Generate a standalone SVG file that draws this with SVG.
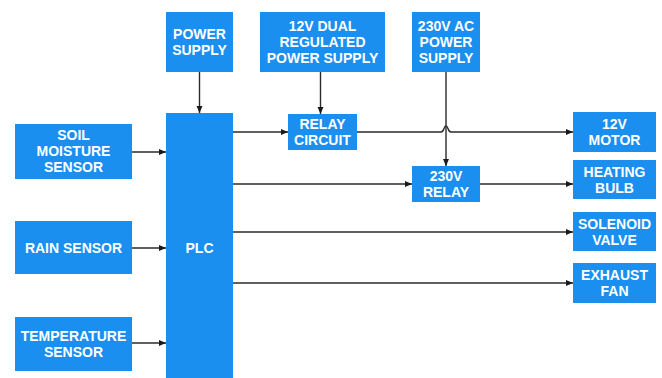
<svg xmlns="http://www.w3.org/2000/svg" width="662" height="378" viewBox="0 0 662 378">
<style>
.box{fill:#1a8ff0}
.t{font-family:"Liberation Sans",Arial,sans-serif;font-weight:bold;font-size:14px;fill:#ffffff;text-anchor:middle}
.c{fill:none;stroke:#2b2b2b;stroke-width:1.4}
</style>
<defs>
<marker id="ah" markerWidth="8" markerHeight="8" refX="7" refY="4" orient="auto" markerUnits="userSpaceOnUse">
<path d="M0,1 L7,4 L0,7 Z" fill="#1a1a1a"/>
</marker>
</defs>
<rect width="662" height="378" fill="#ffffff"/>
<g id="connectors">
<path class="c" d="M199.5,72 V113" marker-end="url(#ah)"/>
<path class="c" d="M320.5,72 V114" marker-end="url(#ah)"/>
<path class="c" d="M446,72 V166" marker-end="url(#ah)"/>
<path class="c" d="M233,132 H288" marker-end="url(#ah)"/>
<path class="c" d="M357,132 H441 Q443,132 444,128.5 Q446,123.5 448,128.5 Q449,132 451,132 H573" marker-end="url(#ah)"/>
<path class="c" d="M233,184 H412" marker-end="url(#ah)"/>
<path class="c" d="M480,184 H573" marker-end="url(#ah)"/>
<path class="c" d="M233,232 H573" marker-end="url(#ah)"/>
<path class="c" d="M233,283 H573" marker-end="url(#ah)"/>
<path class="c" d="M132,152 H166" marker-end="url(#ah)"/>
<path class="c" d="M132,248 H166" marker-end="url(#ah)"/>
<path class="c" d="M132,343 H166" marker-end="url(#ah)"/>
</g>
<g id="power-supply"><rect class="box" x="166" y="12" width="67" height="60"/><text class="t" x="199.5" y="39">POWER</text><text class="t" x="199.5" y="55">SUPPLY</text></g>
<g id="dual-supply"><rect class="box" x="260" y="12" width="125" height="60"/><text class="t" x="322.5" y="31">12V DUAL</text><text class="t" x="322.5" y="47">REGULATED</text><text class="t" x="322.5" y="63">POWER SUPPLY</text></g>
<g id="ac-supply"><rect class="box" x="412" y="12" width="68" height="60"/><text class="t" x="446" y="31">230V AC</text><text class="t" x="446" y="47">POWER</text><text class="t" x="446" y="63">SUPPLY</text></g>
<g id="plc"><rect class="box" x="166" y="113" width="67" height="265"/><text class="t" x="199.5" y="253">PLC</text></g>
<g id="soil"><rect class="box" x="15" y="124" width="117" height="55"/><text class="t" x="73.5" y="140">SOIL</text><text class="t" x="73.5" y="156">MOISTURE</text><text class="t" x="73.5" y="172">SENSOR</text></g>
<g id="rain"><rect class="box" x="15" y="221" width="117" height="53"/><text class="t" x="73.5" y="253">RAIN SENSOR</text></g>
<g id="temp"><rect class="box" x="15" y="317" width="117" height="54"/><text class="t" x="73.5" y="341">TEMPERATURE</text><text class="t" x="73.5" y="357">SENSOR</text></g>
<g id="relay-circuit"><rect class="box" x="288" y="114" width="69" height="36"/><text class="t" x="322.5" y="129">RELAY</text><text class="t" x="322.5" y="145">CIRCUIT</text></g>
<g id="relay-230"><rect class="box" x="412" y="166" width="68" height="36"/><text class="t" x="446" y="181">230V</text><text class="t" x="446" y="197">RELAY</text></g>
<g id="motor"><rect class="box" x="573" y="112" width="83" height="40"/><text class="t" x="614.5" y="129">12V</text><text class="t" x="614.5" y="145">MOTOR</text></g>
<g id="bulb"><rect class="box" x="573" y="160" width="83" height="39"/><text class="t" x="614.5" y="177">HEATING</text><text class="t" x="614.5" y="193">BULB</text></g>
<g id="solenoid"><rect class="box" x="573" y="212" width="83" height="39"/><text class="t" x="614.5" y="229">SOLENOID</text><text class="t" x="614.5" y="245">VALVE</text></g>
<g id="fan"><rect class="box" x="573" y="263" width="83" height="40"/><text class="t" x="614.5" y="280">EXHAUST</text><text class="t" x="614.5" y="296">FAN</text></g>
</svg>
